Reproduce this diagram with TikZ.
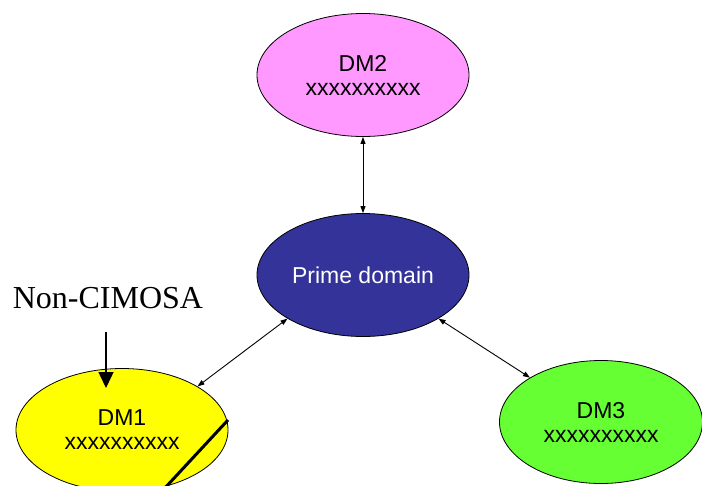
\documentclass[tikz,border=0pt]{standalone}
\usepackage{fontspec}
\setmainfont{Liberation Sans}
\newfontfamily\serifface{Liberation Serif}
\usetikzlibrary{shapes.geometric,arrows.meta}
\definecolor{dmpink}{HTML}{FF99FF}
\definecolor{primeblue}{HTML}{333399}
\definecolor{dmyellow}{HTML}{FFFF00}
\definecolor{dmgreen}{HTML}{66FF33}
\tikzset{
  dmbubble/.style={ellipse, draw=black, line width=0.8pt, inner sep=0pt,
    minimum width=212pt, minimum height=123pt, align=center,
    font=\fontsize{23pt}{24pt}\selectfont},
  link/.style={line width=0.9pt, {Triangle[length=7pt,width=5pt]}-{Triangle[length=7pt,width=5pt]}},
  pointer/.style={line width=1.5pt, -{Triangle[length=16pt,width=15pt]}}
}
\begin{document}
\begin{tikzpicture}[x=1pt,y=-1pt]
  \useasboundingbox (0,0) rectangle (702,485);
  % domains
  \node[dmbubble, fill=dmpink] (dm2) at (363,75) {DM2\\xxxxxxxxxx};
  \node[dmbubble, fill=primeblue, text=white] (prime) at (363,275) {Prime domain};
  \node[dmbubble, fill=dmyellow] (dm1) at (122,430) {DM1\\xxxxxxxxxx};
  \node[dmbubble, fill=dmgreen, minimum width=203pt] (dm3) at (601,422) {DM3\\xxxxxxxxxx};
  % cut mark across DM1
  \coordinate (cutA) at (228,420);
  \coordinate (cutB) at (164,489);
  \draw[line width=3pt] (cutA) -- (cutB);
  % links between domains
  \draw[link] (dm2) -- (prime);
  \draw[link] (prime.210) -- (dm1.30);
  \draw[link] (prime.330) -- (dm3.148);
  % external label
  \node[font=\serifface\fontsize{32pt}{34pt}\selectfont, inner sep=0pt] (noncim) at (108,298) {Non-CIMOSA};
  \coordinate (ncStart) at (106,332);
  \coordinate (ncTip) at (106,388);
  \draw[pointer] (ncStart) -- (ncTip);
\end{tikzpicture}
\end{document}
